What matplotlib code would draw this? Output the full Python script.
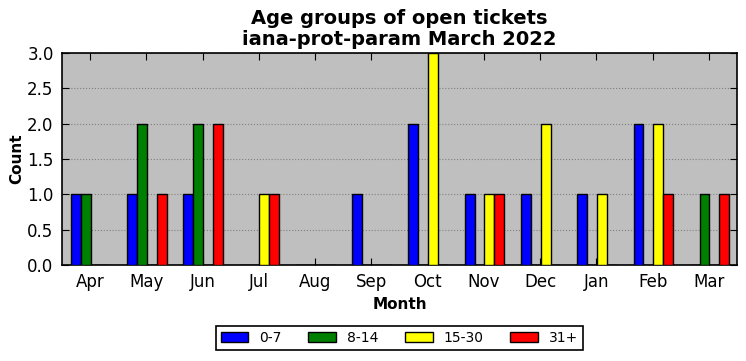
import matplotlib
matplotlib.use('Agg')
import matplotlib.pyplot as plt
import numpy as np

months = ['Apr', 'May', 'Jun', 'Jul', 'Aug', 'Sep', 'Oct', 'Nov', 'Dec', 'Jan', 'Feb', 'Mar']
groups = ['0-7', '8-14', '15-30', '31+']
age_0_7 = [1, 1, 1, 0, 0, 1, 2, 1, 1, 1, 2, 0]
age_8_14 = [1, 2, 2, 0, 0, 0, 0, 0, 0, 0, 0, 1]
age_15_30 = [0, 0, 0, 1, 0, 0, 3, 1, 2, 1, 2, 0]
age_31 = [0, 1, 2, 1, 0, 0, 0, 1, 0, 0, 1, 1]
colors = ['blue', 'green', 'yellow', 'red']

fig = plt.figure(figsize=(7.46, 3.61), dpi=100)
ax = fig.add_axes([0.083, 0.266, 0.905, 0.587])
ax.set_facecolor('#bfbfbf')

x = np.arange(len(months))
w = 0.175
for i, (vals, c, g) in enumerate(zip([age_0_7, age_8_14, age_15_30, age_31], colors, groups)):
    ax.bar(x + (i - 1.5) * w + 0.01, vals, w, color=c, edgecolor='black', linewidth=1, label=g, zorder=3)

ax.set_xlim(-0.5, 11.5)
ax.set_ylim(0, 3)
ax.set_xticks(x)
ax.set_xticklabels(months, fontsize=12)
ax.set_yticks(np.arange(0, 3.01, 0.5))
ax.tick_params(axis='both', direction='in', top=True, right=True, labelsize=12, length=5, pad=6)
ax.yaxis.grid(True, linestyle=':', color='gray', linewidth=0.8, zorder=0)
ax.set_axisbelow(True)
for s in ax.spines.values():
    s.set_linewidth(1.2)

ax.set_xlabel('Month', fontsize=11, fontweight='bold')
ax.set_ylabel('Count', fontsize=11, fontweight='bold', labelpad=2)
ax.set_title('Age groups of open tickets\niana-prot-param March 2022', fontsize=14, fontweight='bold',
             linespacing=1.1)

leg = ax.legend(loc='center', bbox_to_anchor=(0.5, -0.345), ncol=4, fontsize=10, fancybox=False,
                edgecolor='black', handlelength=2.0, columnspacing=1.9, framealpha=1,
                borderpad=0.35)
leg.get_frame().set_linewidth(1.2)

plt.savefig('out.png', dpi=100)
